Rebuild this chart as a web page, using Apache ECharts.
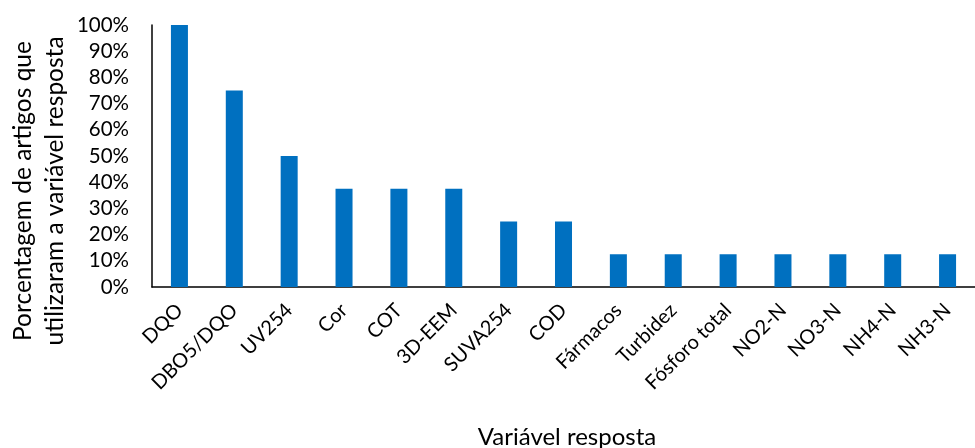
<!DOCTYPE html>
<html>
<head>
<meta charset="utf-8">
<script src="https://cdn.jsdelivr.net/npm/echarts@6/dist/echarts.min.js"></script>
<style>html,body{margin:0;padding:0;background:#fff}#c{width:975px;height:448px}</style>
</head>
<body>
<div id="c"></div>
<script>
const categories = ['DQO','DBO5/DQO','UV254','Cor','COT','3D-EEM','SUVA254','COD','Fármacos','Turbidez','Fósforo total','NO2-N','NO3-N','NH4-N','NH3-N'];
const values = [100, 75, 50, 37.5, 37.5, 37.5, 25, 25, 12.5, 12.5, 12.5, 12.5, 12.5, 12.5, 12.5];
const yAxisTitle = 'Porcentagem de artigos que\nutilizaram a variável resposta';
const xAxisTitle = 'Variável resposta';
</script>
<script>
const font = 'Lato, "Open Sans", sans-serif';
const chart = echarts.init(document.getElementById('c'), null, {renderer: 'canvas'});
chart.setOption({
  animation: false,
  backgroundColor: '#fff',
  grid: {left: 152, right: -10, top: 25, bottom: 161, containLabel: false},
  graphic: [{
    type: 'text', x: 39, y: 191, rotation: Math.PI / 2,
    style: {text: yAxisTitle, font: '24.5px ' + font, fill: '#000', align: 'center', verticalAlign: 'middle', lineHeight: 32}
  }, {
    type: 'text', x: 567, y: 437,
    style: {text: xAxisTitle, font: '24px ' + font, fill: '#000', align: 'center', verticalAlign: 'middle'}
  }],
  xAxis: {
    type: 'category', data: categories,
    axisLine: {lineStyle: {color: '#000', width: 1.5}},
    axisTick: {show: false},
    axisLabel: {rotate: 45, margin: 20, fontSize: 20, fontFamily: font, color: '#000', interval: 0}
  },
  yAxis: {
    type: 'value', min: 0, max: 100, interval: 10,
    axisLine: {show: true, lineStyle: {color: '#000', width: 1.5}},
    axisTick: {show: false},
    splitLine: {show: false},
    axisLabel: {formatter: '{value}%', fontSize: 20.5, fontFamily: font, color: '#000', margin: 23}
  },
  series: [{
    type: 'bar', data: values, barWidth: '31%',
    itemStyle: {color: '#0070C0'}
  }]
});
</script>
</body>
</html>
